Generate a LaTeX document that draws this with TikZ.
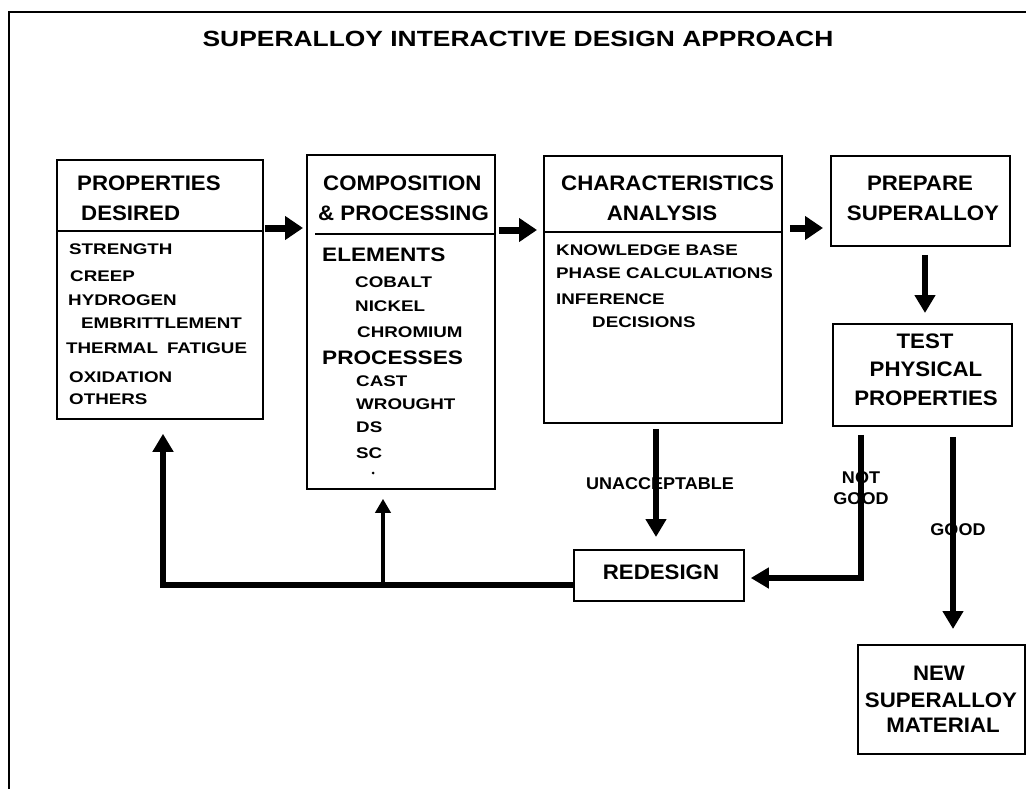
\documentclass[tikz,border=0pt]{standalone}
\usepackage{fontspec}
\setmainfont{Liberation Sans}
\newfontfamily\ftitle[FakeStretch=1.2]{Liberation Sans}
\newfontfamily\fitem[FakeStretch=1.22]{Liberation Sans}
\newfontfamily\fsub[FakeStretch=1.16]{Liberation Sans}
\newfontfamily\fhead[FakeStretch=1.06]{Liberation Sans}
\usetikzlibrary{arrows.meta}
\begin{document}
\begin{tikzpicture}[x=1pt,y=-1pt,
  box/.style={draw, line width=1.8pt, anchor=north west, inner sep=0pt},
  divline/.style={line width=2.6pt},
  ttl/.style={inner sep=0pt, anchor=base, font=\ftitle\bfseries\fontsize{22}{22}\selectfont},
  hd/.style={inner sep=0pt, font=\fhead\bfseries\fontsize{21}{21}\selectfont},
  itm/.style={inner sep=0pt, anchor=base west, font=\fitem\bfseries\fontsize{15.4}{15.4}\selectfont},
  subitm/.style={inner sep=0pt, anchor=base west, font=\fsub\bfseries\fontsize{19.5}{19.5}\selectfont},
  lbl/.style={inner sep=0pt, anchor=base, font=\fhead\bfseries\fontsize{17}{17}\selectfont},
  bigarrow/.style={line width=7pt, -{Triangle[length=18pt,width=23pt]}},
  vertarrow/.style={line width=6.5pt, line join=miter, -{Triangle[length=18pt,width=20pt]}},
  thinarrow/.style={line width=4pt, -{Triangle[length=14pt,width=15pt]}}
]
\useasboundingbox (0,0) rectangle (1026,789);
% outer frame (top and left edges only)
\draw[line width=1.5pt] (1026,12) -- (9,12) -- (9,789);

% title
\node[ttl] (title) at (518,47) {SUPERALLOY INTERACTIVE DESIGN APPROACH};

% boxes
\node[box, minimum width=206pt, minimum height=259pt] (props) at (56,159) {};
\node[box, minimum width=188pt, minimum height=334pt] (comp) at (306,154) {};
\node[box, minimum width=238pt, minimum height=267pt] (char) at (543,155) {};
\node[box, minimum width=179pt, minimum height=90pt] (prep) at (830,155) {};
\node[box, minimum width=179pt, minimum height=102pt] (test) at (832,323) {};
\node[box, minimum width=170pt, minimum height=51pt] (redesign) at (573,549) {};
\node[box, minimum width=167pt, minimum height=109pt] (newmat) at (857,644) {};

% dividers
\draw[divline] (56,231) -- (262,231);
\draw[divline] (315,234) -- (494,234);
\draw[divline] (543,232) -- (781,232);

% headers
\node[hd, anchor=base west] (h1a) at (77,191) {PROPERTIES};
\node[hd, anchor=base west] (h1b) at (81,221) {DESIRED};
\node[hd, anchor=base west] (h2a) at (323,190) {COMPOSITION};
\node[hd, anchor=base west] (h2b) at (318,220) {\&~PROCESSING};
\node[hd, anchor=base west] (h3a) at (561,190) {CHARACTERISTICS};
\node[hd, anchor=base] (h3b) at (662,220) {ANALYSIS};
\node[hd, anchor=base] (h4a) at (920,191) {PREPARE};
\node[hd, anchor=base] (h4b) at (923,221) {SUPERALLOY};
\node[hd, anchor=base] (h5a) at (925,348) {TEST};
\node[hd, anchor=base] (h5b) at (926,376) {PHYSICAL};
\node[hd, anchor=base] (h5c) at (926,405) {PROPERTIES};
\node[hd, anchor=base] (rdt) at (661,579) {REDESIGN};
\node[hd, anchor=base] (n1) at (939,680) {NEW};
\node[hd, anchor=base] (n2) at (941,707) {SUPERALLOY};
\node[hd, anchor=base] (n3) at (943,732) {MATERIAL};

% properties items
\node[itm] (p1) at (69,254.5) {STRENGTH};
\node[itm] (p2) at (70,281.5) {CREEP};
\node[itm] (p3) at (68,305.5) {HYDROGEN};
\node[itm] (p4) at (81,328.5) {EMBRITTLEMENT};
\node[itm] (p5) at (66,353.5) {THERMAL\hspace{9pt}FATIGUE};
\node[itm] (p6) at (69,382.5) {OXIDATION};
\node[itm] (p7) at (69,404.5) {OTHERS};

% composition items
\node[subitm] (c1) at (322,261) {ELEMENTS};
\node[itm] (c2) at (355,287.5) {COBALT};
\node[itm] (c3) at (355,311.5) {NICKEL};
\node[itm] (c4) at (357,337.5) {CHROMIUM};
\node[subitm] (c5) at (322,364) {PROCESSES};
\node[itm] (c6) at (356,386.5) {CAST};
\node[itm] (c7) at (356,409.5) {WROUGHT};
\node[itm] (c8) at (356,432.5) {DS};
\node[itm] (c9) at (356,458.5) {SC};
\fill (373,473) circle (1.5pt);

% characteristics items
\node[itm] (k1) at (556,255.5) {KNOWLEDGE BASE};
\node[itm] (k2) at (556,278.5) {PHASE CALCULATIONS};
\node[itm] (k3) at (556,304.5) {INFERENCE};
\node[itm] (k4) at (592,327.5) {DECISIONS};

% row / column helper coordinates
\coordinate (r1) at (0,228);
\coordinate (r2) at (0,230);
\coordinate (cx) at (925,0);
\coordinate (ux) at (656,0);
\coordinate (ng) at (861,578);
\coordinate (gx) at (953,0);
\coordinate (fb) at (163,585);
\coordinate (fb2) at (383,585);

% connectors
\draw[bigarrow, shorten <=1pt, shorten >=3pt] (props.east |- r1) -- (comp.west |- r1);
\draw[bigarrow, shorten <=3pt, shorten >=6pt] (comp.east |- r2) -- (char.west |- r2);
\draw[bigarrow, shorten <=7pt, shorten >=7pt] (char.east |- r1) -- (prep.west |- r1);
\draw[vertarrow, shorten <=8pt, shorten >=10pt] (prep.south -| cx) -- (test.north -| cx);
\draw[vertarrow, shorten <=5pt, shorten >=12pt] (char.south -| ux) -- (redesign.north -| ux);
\draw[vertarrow, shorten <=8pt, shorten >=6pt] (test.south -| ng) -- (ng) -- (redesign.east |- ng);
\draw[vertarrow, shorten <=10pt, shorten >=15pt] (test.south -| gx) -- (newmat.north -| gx);
\draw[vertarrow, shorten >=14pt] (redesign.west |- fb) -- (fb) -- (props.south -| fb);
\draw[thinarrow, shorten >=9pt] (fb2) -- (comp.south -| fb2);

% labels
\node[lbl] (unacc) at (660,489) {UNACCEPTABLE};
\node[lbl] (notl) at (861,483) {NOT};
\node[lbl] (good1) at (861,504) {GOOD};
\node[lbl] (good2) at (958,535) {GOOD};
\end{tikzpicture}
\end{document}
